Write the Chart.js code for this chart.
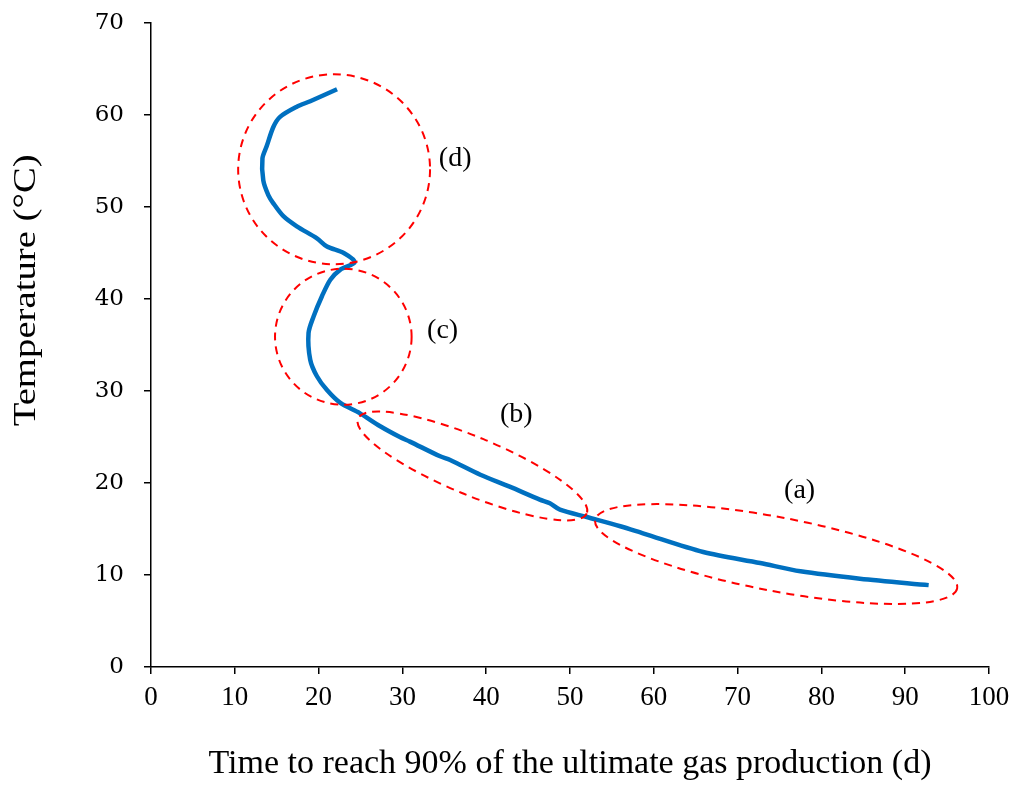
<!DOCTYPE html>
<html>
<head>
<meta charset="utf-8">
<script src="https://cdn.jsdelivr.net/npm/chart.js@4"></script>
<style>
  html, body { margin: 0; padding: 0; background: #fff; }
  #box { width: 1016px; height: 788px; }
</style>
</head>
<body>
<div id="box"><canvas id="grafico"></canvas></div>
<script>
// tiempo hasta el 90% de la producción (d) y temperatura (°C)
const tiempo = [22.2, 19.0, 17.4, 15.4, 14.6, 13.8, 13.3, 13.4, 14.0, 14.6, 15.8, 17.4, 19.8, 21.0, 23.0, 24.3,
  22.6, 21.4, 20.4, 19.4, 18.8, 19.0, 19.8, 21.0, 22.6, 24.9, 27.3, 29.7, 30.9, 34.5, 35.7, 39.3, 42.8,
  46.4, 47.6, 48.8, 52.0, 56.0, 58.8, 65.9, 72.7, 77.5, 84.6, 92.8];
const temperatura = [62.8, 61.5, 60.9, 59.8, 58.7, 56.6, 55.3, 52.9, 51.3, 50.4, 49.0, 47.9, 46.6, 45.7, 45.0, 44.0,
  43.2, 42.1, 40.3, 38.1, 36.3, 33.4, 31.6, 30.1, 28.7, 27.6, 26.2, 25.0, 24.5, 22.9, 22.5, 20.9, 19.6,
  18.2, 17.8, 17.1, 16.3, 15.3, 14.5, 12.5, 11.3, 10.4, 9.6, 8.9];

const ticksX = [0, 10, 20, 30, 40, 50, 60, 70, 80, 90, 100];
const ticksY = [0, 10, 20, 30, 40, 50, 60, 70];

// zonas marcadas: extremos del eje mayor en unidades de datos
const zonas = ['(a)', '(b)', '(c)', '(d)'];
const zonaInicio = [[53.0, 16.0], [24.7, 27.0], [14.8, 35.9], [10.4, 54.1]];
const zonaFin = [[96.2, 8.55], [52.0, 16.7], [31.1, 35.9], [33.3, 54.1]];
const zonaEtiqueta = [[77.4, 19.2], [43.6, 27.4], [34.8, 36.6], [36.3, 55.3]];

const anchoZona = [37, 29, 68, 95];

const puntos = tiempo.map((t, i) => ({ x: t, y: temperatura[i] }));

const zonasPlugin = {
  id: 'zonas',
  afterDatasetsDraw(chart) {
    const ctx = chart.ctx;
    const sx = chart.scales.x, sy = chart.scales.y;
    ctx.save();
    ctx.strokeStyle = '#ff0000';
    ctx.lineWidth = 2;
    ctx.setLineDash([8, 6]);
    for (let i = 0; i < zonas.length; i++) {
      const x1 = sx.getPixelForValue(zonaInicio[i][0]), y1 = sy.getPixelForValue(zonaInicio[i][1]);
      const x2 = sx.getPixelForValue(zonaFin[i][0]), y2 = sy.getPixelForValue(zonaFin[i][1]);
      const cx = (x1 + x2) / 2, cy = (y1 + y2) / 2;
      const r = Math.hypot(x2 - x1, y2 - y1) / 2;
      const ang = Math.atan2(y2 - y1, x2 - x1);
      ctx.beginPath();
      ctx.ellipse(cx, cy, r, anchoZona[i], ang, 0, Math.PI * 2);
      ctx.stroke();
    }
    ctx.setLineDash([]);
    ctx.fillStyle = '#000';
    ctx.font = '28px "Liberation Serif"';
    ctx.textAlign = 'center';
    ctx.textBaseline = 'middle';
    for (let i = 0; i < zonas.length; i++) {
      ctx.fillText(zonas[i], sx.getPixelForValue(zonaEtiqueta[i][0]), sy.getPixelForValue(zonaEtiqueta[i][1]));
    }

    // título del eje vertical, algo estirado a lo largo
    const area = chart.chartArea;
    ctx.translate(27, area.top + area.height * 0.415);
    ctx.rotate(-Math.PI / 2);
    ctx.scale(1.25, 1);
    ctx.font = '31px "Liberation Serif"';
    ctx.fillText('Temperature (°C)', 0, 0);
    ctx.restore();
  }
};

new Chart(document.getElementById('grafico'), {
  type: 'scatter',
  data: {
    datasets: [{
      data: puntos,
      showLine: true,
      borderColor: '#0070c0',
      borderWidth: 4.5,
      pointRadius: 0,
      tension: 0.3,
      fill: false
    }]
  },
  options: {
    responsive: true,
    maintainAspectRatio: false,
    animation: false,
    layout: { padding: { top: 23, right: 27, left: 0, bottom: 0 } },
    plugins: { legend: { display: false }, tooltip: { enabled: false } },
    scales: {
      x: {
        type: 'linear', min: 0, max: 100,
        afterBuildTicks(s) { s.ticks = ticksX.map(v => ({ value: v })); },
        afterFit(s) { s.height = 121; s.paddingLeft = 0; s.paddingRight = 0; },
        grid: { drawOnChartArea: false, tickLength: 7, color: '#000', lineWidth: 1.5 },
        border: { color: '#000', width: 1.5 },
        ticks: { color: '#000', padding: 8, maxRotation: 0, font: { family: 'Liberation Serif', size: 27 } },
        title: { display: true, text: 'Time to reach 90% of the ultimate gas production (d)', color: '#000',
          padding: { top: 20 }, font: { family: 'Liberation Serif', size: 34 } }
      },
      y: {
        type: 'linear', min: 0, max: 70,
        afterBuildTicks(s) { s.ticks = ticksY.map(v => ({ value: v })); },
        afterFit(s) { s.width = 151; s.paddingTop = 0; s.paddingBottom = 0; },
        grid: { drawOnChartArea: false, tickLength: 7, color: '#000', lineWidth: 1.5 },
        border: { color: '#000', width: 1.5 },
        ticks: { color: '#000', padding: 20, font: { family: 'DejaVu Serif', size: 23 } },
        title: { display: false }
      }
    }
  },
  plugins: [zonasPlugin]
});
</script>
</body>
</html>
